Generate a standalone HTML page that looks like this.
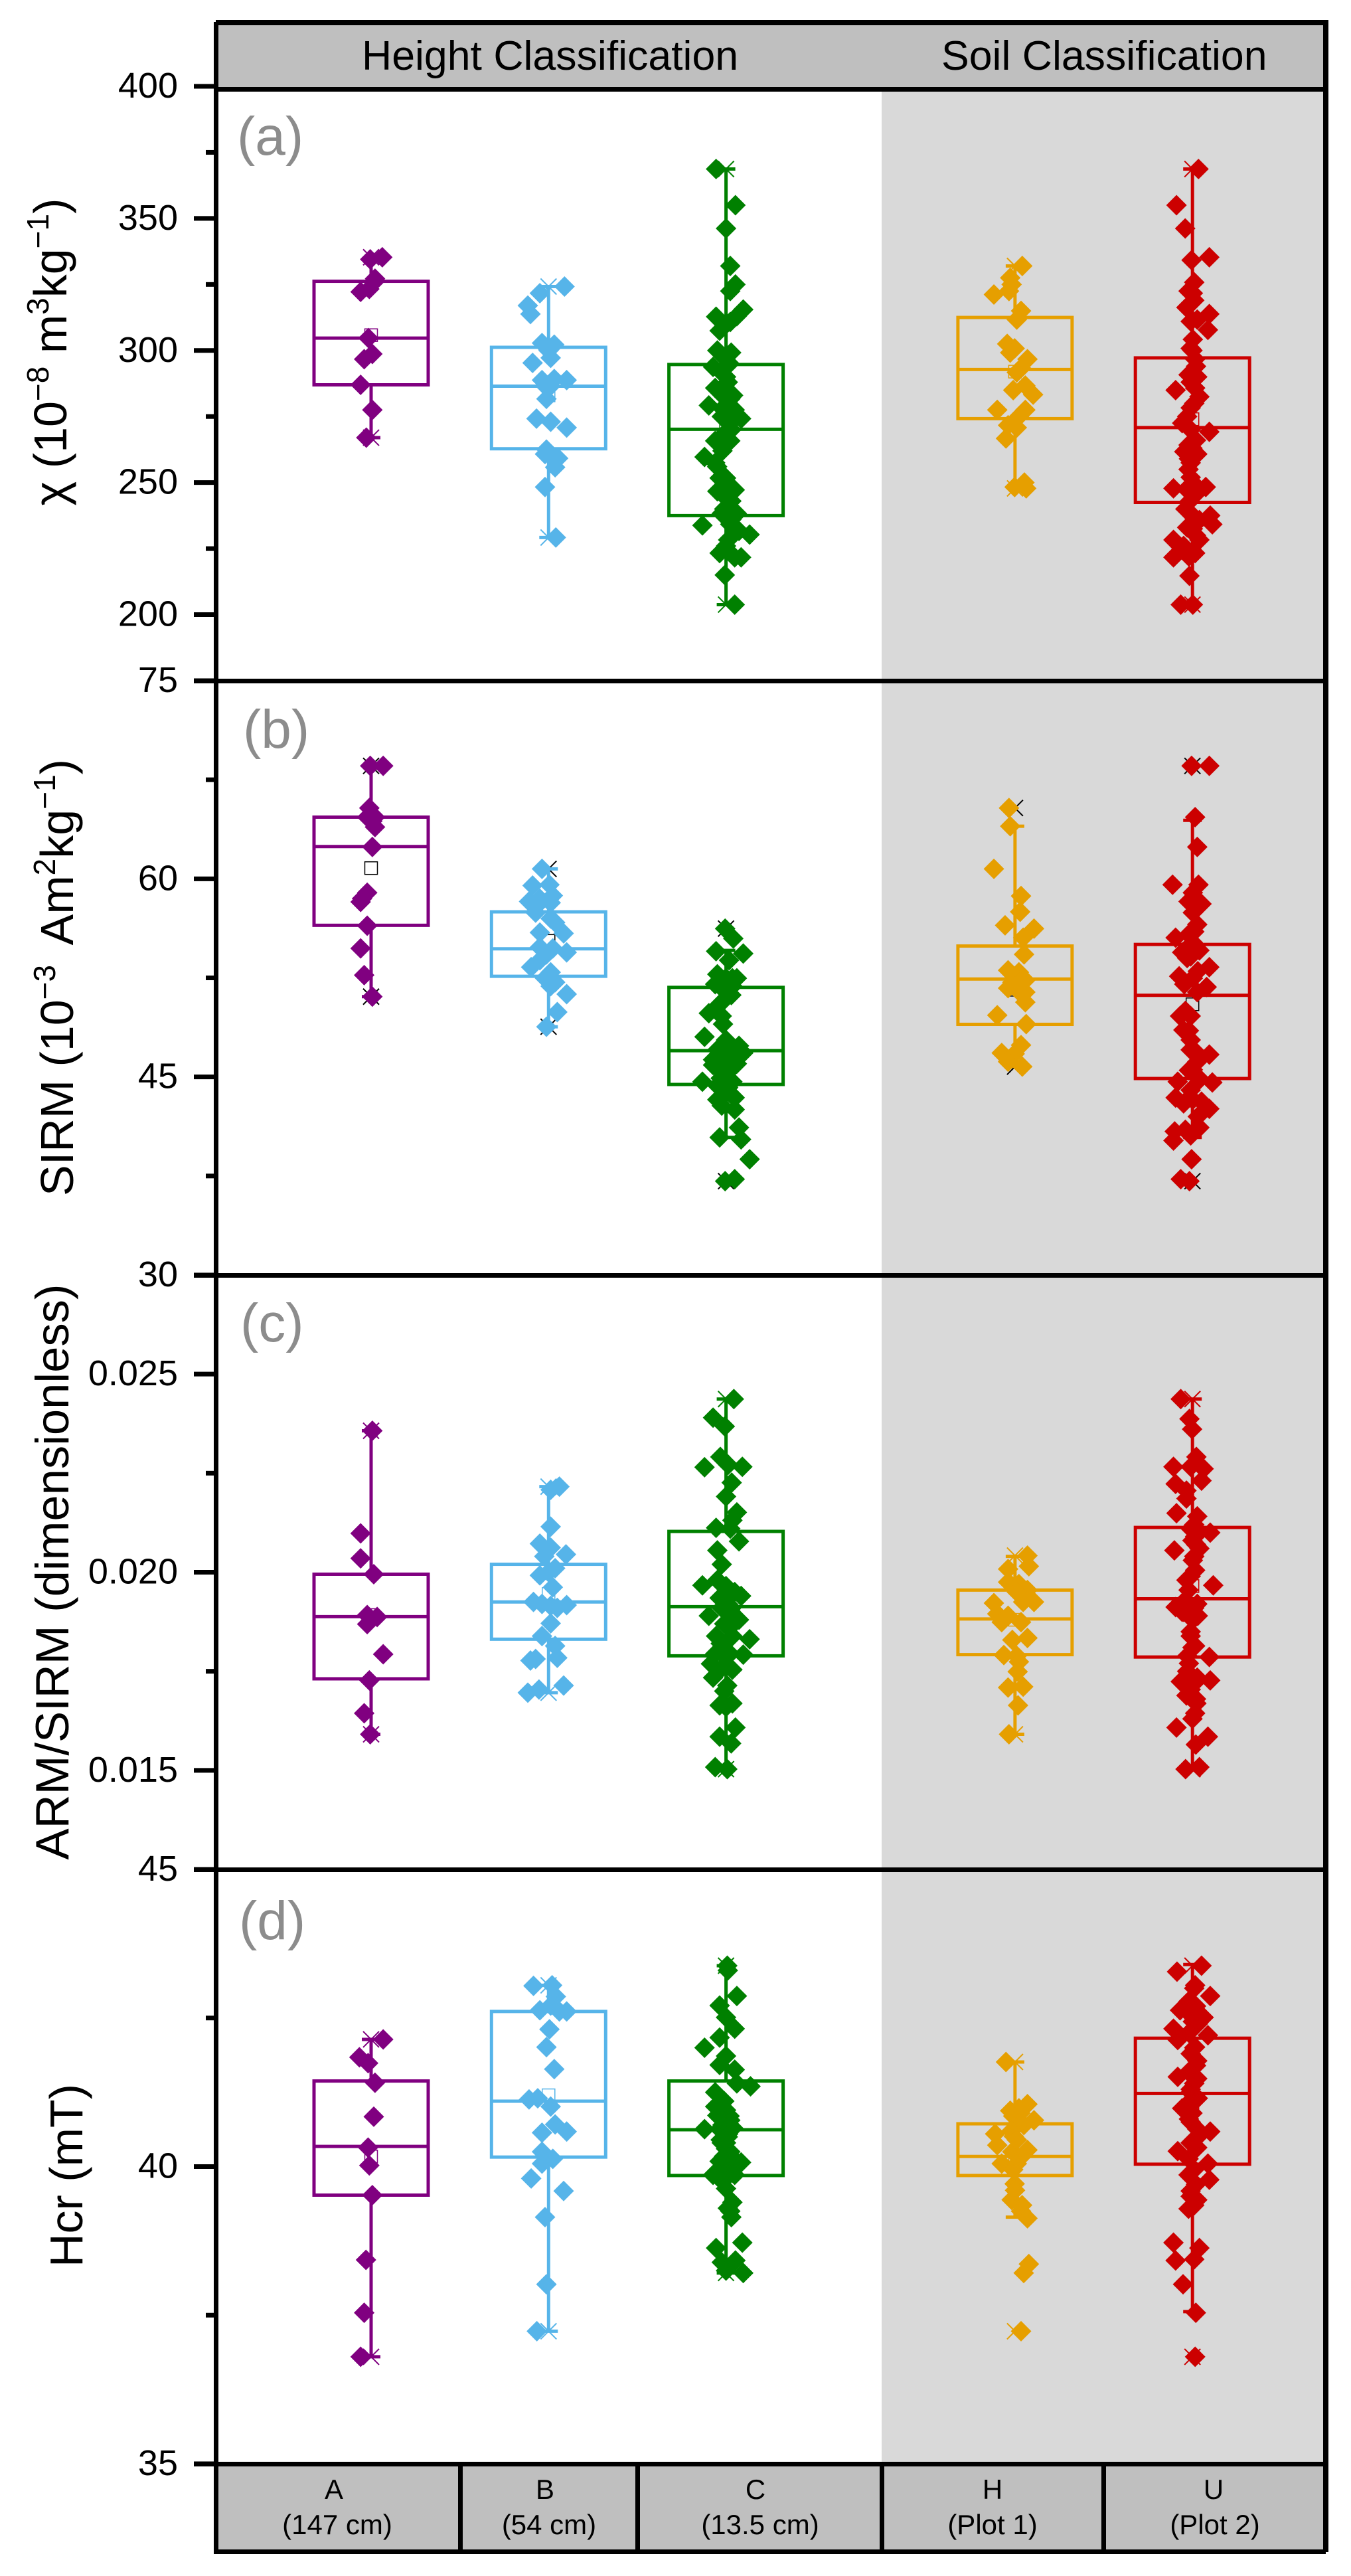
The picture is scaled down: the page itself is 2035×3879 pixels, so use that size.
<!DOCTYPE html>
<html lang="en">
<head>
<meta charset="utf-8">
<title>Magnetic parameters box plots</title>
<style>
html,body{margin:0;padding:0;background:#fff;}
svg{display:block;font-family:"Liberation Sans",Arial,sans-serif;}
</style>
</head>
<body>
<svg id="chart" xmlns="http://www.w3.org/2000/svg" width="2035" height="3879" viewBox="0 0 2035 3879">
  <rect x="0" y="0" width="2035" height="3879" fill="#ffffff"/>
  <rect x="1328" y="137" width="665" height="3573" fill="#d9d9d9"/>
  <rect x="325" y="37" width="1668" height="95" fill="#bfbfbf"/>
  <rect x="325" y="3712" width="1668" height="128" fill="#bfbfbf"/>
  <text x="545" y="105" font-size="62.6" fill="#000">Height Classification</text>
  <text x="1418" y="105" font-size="62.6" fill="#000">Soil Classification</text>

  <g id="marks"></g>

  <g fill="#000">
    <rect x="325" y="30" width="1676" height="8"/>
    <rect x="322" y="33" width="7" height="3813"/>
    <rect x="1993" y="30" width="8" height="3813"/>
    <rect x="322" y="3839" width="1675" height="7"/>
    <rect x="325" y="131" width="1672" height="7"/>
    <rect x="292" y="1022" width="1705" height="7"/>
    <rect x="292" y="1917" width="1705" height="7"/>
    <rect x="292" y="2812" width="1705" height="7"/>
    <rect x="292" y="3707" width="1705" height="7"/>
    <rect x="690" y="3710" width="7" height="133"/>
    <rect x="957" y="3710" width="7" height="133"/>
    <rect x="1325" y="3710" width="7" height="133"/>
    <rect x="1659" y="3710" width="7" height="133"/>
  </g>

  <g font-size="42" text-anchor="middle" fill="#000">
    <text x="503" y="3763">A</text>
    <text x="508" y="3816">(147 cm)</text>
    <text x="821" y="3763">B</text>
    <text x="827" y="3816">(54 cm)</text>
    <text x="1138" y="3763">C</text>
    <text x="1145" y="3816">(13.5 cm)</text>
    <text x="1495" y="3763">H</text>
    <text x="1495" y="3816">(Plot 1)</text>
    <text x="1828" y="3763">U</text>
    <text x="1830" y="3816">(Plot 2)</text>
  </g>

  <g font-size="82" fill="#8c8c8c">
    <text x="357" y="233">(a)</text>
    <text x="366" y="1126">(b)</text>
    <text x="362" y="2020">(c)</text>
    <text x="360" y="2920">(d)</text>
  </g>

  <g font-size="70" text-anchor="middle" fill="#000">
    <text transform="translate(100,530) rotate(-90)">χ (10<tspan font-size="46" dy="-27">−8</tspan><tspan dy="27"> m</tspan><tspan font-size="46" dy="-27">3</tspan><tspan dy="27">kg</tspan><tspan font-size="46" dy="-27">−1</tspan><tspan dy="27">)</tspan></text>
    <text transform="translate(110,1472) rotate(-90)">SIRM (10<tspan font-size="46" dy="-27">−3</tspan><tspan dy="27" dx="14"> Am</tspan><tspan font-size="46" dy="-27">2</tspan><tspan dy="27">kg</tspan><tspan font-size="46" dy="-27">−1</tspan><tspan dy="27">)</tspan></text>
    <text font-size="70.6" transform="translate(103,2367) rotate(-90)">ARM/SIRM (dimensionless)</text>
    <text transform="translate(124,3276) rotate(-90)">Hcr (mT)</text>
  </g>
</svg>

<script>
// Categories and colours
var categories = ['A', 'B', 'C', 'H', 'U'];
var groupColors = ['#800080', '#56b4e9', '#008000', '#e69f00', '#cc0000'];

// Tick values
var chiMajorTicks = [400, 350, 300, 250, 200];
var chiMinorTicks = [375, 325, 275, 225];
var sirmMajorTicks = [75, 60, 45, 30];
var sirmMinorTicks = [67.5, 52.5, 37.5];
var ratioMajorTicks = [0.025, 0.020, 0.015];
var ratioMinorTicks = [0.0225, 0.0175];
var hcrMajorTicks = [45, 40, 35];
var hcrMinorTicks = [42.5, 37.5];
var ratioTickLabels = ['0.025', '0.020', '0.015'];

// Panel (a) chi: values and jitter (jitter = percent of one category step)
var chiA = [335.3,334.5,327.2,325.8,323.3,322.2,304.7,298.7,296.7,287,277.5,267];
var chiAJit = [6.3,-0.5,2.2,1.5,-1,-5.9,-1.5,0.7,-3.9,-5.9,0.7,-2.7];
var chiB = [324.2,321.7,317,313.8,302.8,302.2,297.2,295.3,288.8,289.2,288.8,285.8,281.7,274.2,273,270.8,260.8,259.2,255.8,248.3,229.2,286.7,300,262.5,260];
var chiBJit = [9,-4.9,-11.7,-10.2,-3.7,3.2,1.2,-9,-3.7,3.2,10.2,0,-1.2,-6.8,1.2,10.2,-2,5.4,3.7,-2,4.1,-2,0,-1.2,2.4];
var chiC = [368.7,355,346.2,332,325,322.5,315.5,313,310.8,312.8,307.5,300,299.2,297.5,293.8,290,285.8,282.5,281.7,279.2,277.5,275,274.2,272.5,268.3,265.8,264.2,259.7,257.5,251.7,249.2,247.2,246.7,244.2,238.3,238.3,233.8,234.2,231.7,230.3,228.3,223.3,221.7,221.7,215,203.8,251.7,265.8,295,292,288,283,278,270,262,256,243,240,236,226];
var chiCJit = [-5.6,5.3,0,2.4,5.3,2.4,9.7,6.1,2.4,-5.6,-3.6,-4.9,2.9,-1.2,-7.3,0,-6.1,-1.2,2.4,-9.7,4.9,-2.4,8.5,2.4,-1.2,2.4,-3.6,-12.1,-6.1,-3.6,1.2,4.9,-4.9,0,-2.4,6.1,-13.3,2.4,7.3,13.3,1.2,-3.6,8.5,4.9,-0.7,4.9,0,-6.1,2,-3,1,4,-2,3,-2,-5,3,-1,3,0];
var chiH = [332,327.5,325,322.5,321.2,315,311.7,302.5,300.8,299.2,296.7,293.3,291.7,286.7,285,283.3,277.5,277.5,275,271.7,270.8,266.7,250,248.3,247.8];
var chiHJit = [4.1,-2.7,-1.9,-3.4,-11.9,3.4,1,-4.4,-0.2,-2.7,7,3.4,1,5.8,-1,10.2,-10,5.8,2.2,-3.9,1,-5.1,5.3,-0.2,6.3];
var chiU = [368.7,355,346.2,334.2,335.3,325.8,322.5,321.7,316.3,313.8,311.7,307.8,304.2,300.8,296.7,290.8,290,285,285.8,282.5,278.3,272.5,270,269.2,264.2,261.7,260.8,257.5,255,247.8,247.5,248.3,248.3,242.5,238.3,237.5,235.8,234.2,232.5,228.3,228.3,225.8,223.3,221.7,214.7,203.8,203.8,300,294,288,280,275,266,263,259,252,245,240,233,230,226,222,319,311];
var chiUJit = [3.4,-9,-4.1,-0.5,9.5,1,-2.2,0.2,-3.4,9.5,2.7,8.7,0.2,-1,1.5,-2.2,2.7,-9.5,1.5,3.9,-1,-5.8,-1,9.5,-2.2,-4.6,2.7,-1,-2.2,-10.7,-3.4,2.7,7.5,-2.2,-1,10,3.9,11.2,0.2,-10.7,3.9,-7,1.5,-10.7,-1.7,-6.6,0.2,0,2,-1,1,-3,2,0,-2,-1,1,-4,-3,2,-5,-2,1,-1];
var chiQ1 = [287, 262.8, 237.5, 274.2, 242.5];
var chiMedian = [304.7, 286.5, 270.2, 292.8, 270.8];
var chiQ3 = [326.2, 301.2, 294.7, 312.5, 297.2];
var chiWhiskerLow = [267, 229.2, 203.8, 248.3, 203.8];
var chiWhiskerHigh = [334.7, 324.2, 368.7, 332, 368.7];
var chiMean = [305.8, 283, 270, 292, 274];

// Panel (b) SIRM
var sirmA = [68.55,68.55,65.36,64.67,64.67,64.37,63.92,62.41,58.95,58.25,58.5,56.45,54.73,52.71,51.08];
var sirmAJit = [-0.5,6.8,-1,-2.2,2.2,0.7,2.2,0.7,-2.2,-5.9,-5.1,-2.2,-5.9,-3.9,0.7];
var sirmB = [60.75,59.49,59.55,58.73,58.28,58.49,58.04,58.19,57.44,56.99,56.69,55.93,55.87,54.82,54.73,54.43,54.28,53.83,53.31,52.92,52.47,52.17,51.87,51.27,49.91,48.8];
var sirmBJit = [-3.7,-9,0.5,2.4,-11,-4.9,-6.1,1.2,-7.3,1.2,3.7,-4.9,8.5,-4.9,2.4,10.2,-1.2,-4.9,-9.8,1.2,-2,3.7,1.2,10.2,4.9,-1.2];
var sirmC = [56.23,55.48,54.52,54.34,53.83,52.77,52.47,52.47,52.02,51.87,51.42,50.81,49.82,49.61,49,48.04,47.8,47.35,47.05,46.81,46.6,46.3,46.15,46,45.54,44.64,44.94,44.34,44.19,43.28,43.43,42.83,42.53,41.17,40.42,40.27,38.77,37.11,37.26,52.47,50.5,45.9,46.9,45.54,44.64,52.2,51.2,46.5,45.8,44.9,43.8];
var sirmCJit = [-0.5,4.1,-5.6,9.7,1.7,-4.9,3.6,0,-6.1,3.6,0,-1.2,-9.7,-2.4,-1.7,-12.1,0,7.3,-4.9,9.7,2.4,-7.3,-1.2,6.1,2.4,-13.3,0,-4.9,1.2,-4.9,4.9,-2.4,4.9,7.3,-3.6,8.5,13.3,-0.5,4.9,6.1,-3.6,-7.3,6.1,-3.6,3.6,-4,3,-5,4,-3,2];
var sirmH = [65.36,63.98,60.75,58.7,57.5,56.48,56.23,55.54,54.28,53.07,52.92,52.32,52.17,51.72,51.42,50.66,49.67,49,47.41,46.81,46.75,46.15,45.78,52.6,52.2,51.9,51.5];
var sirmHJit = [-3.4,-2.7,-11.9,3.4,2.9,-5.6,10.7,4.6,5.1,-3.9,2.2,5.8,-1.5,-3.9,5.8,5.8,-10,6.3,3.4,-7.5,-0.2,-3.9,4.1,0,3,-1,2];
var sirmU = [68.55,68.55,64.67,62.41,59.55,59.55,58.95,58.28,58.1,57.44,56.54,55.78,55.54,55.18,54.43,54.58,54.13,53.31,52.62,52.47,52.02,51.81,51.42,49.61,49.61,48.55,47.8,47.05,46.69,46.15,45.54,44.64,44.79,44.58,43.43,43.28,43.13,42.59,40.87,41.17,40.57,40.18,38.77,37.26,37.11,56,55,54,53,50,48.5,47,45.5,45,44,43,42,41];
var sirmUJit = [-0.5,9.5,1.5,2.7,-11.2,3.4,0.2,-2.2,5.1,0.2,2.7,-2.2,-9.5,0.2,-5.8,3.9,-1,9.5,-7.5,0.2,-4.6,8,2.7,-1,-7,-5.1,-1,-1,9.5,2.7,0.2,-8.3,3.9,11.2,-9.5,0.2,5.1,9.5,-10,3.9,-1,-10.7,-0.5,-6.6,-1.7,1,-1,-3,3,-4,-2,1,-2,3,-1,-5,3,-4];
var sirmQ1 = [56.48, 52.62, 44.43, 48.98, 44.88];
var sirmMedian = [62.44, 54.7, 46.99, 52.41, 51.18];
var sirmQ3 = [64.67, 57.5, 51.78, 54.91, 55.03];
var sirmWhiskerLow = [51.08, 48.8, 40.42, 45.78, 40.42];
var sirmWhiskerHigh = [68.55, 60.75, 54.58, 63.98, 64.43];
var sirmMean = [60.81, 55.3, 47.5, 51.6, 50.5];

// Panel (c) ARM/SIRM
var ratioA = [0.02357,0.02098,0.02035,0.01995,0.01892,0.01887,0.01869,0.01793,0.01727,0.01644,0.01591];
var ratioAJit = [0.7,-5.9,-5.9,1.5,-2.2,3.4,-2.2,6.8,-1,-3.9,-0.5];
var ratioB = [0.02216,0.02208,0.02115,0.02072,0.02062,0.02045,0.0204,0.0201,0.01992,0.02,0.01962,0.01925,0.0192,0.01915,0.01917,0.0191,0.01871,0.01839,0.01814,0.01781,0.01777,0.01784,0.01714,0.01696,0.01704];
var ratioBJit = [6.1,1.2,1.2,-4.9,1.2,9.8,-2.4,3.7,-4.9,0,2.4,-8.5,-3.7,1.2,10.2,4.9,1.2,-3.7,3.7,-7.3,-10.2,4.9,8.5,-11.7,-5.4];
var ratioC = [0.02437,0.0239,0.02368,0.02291,0.02265,0.02266,0.02271,0.02226,0.02191,0.02151,0.02131,0.02112,0.0211,0.02078,0.02055,0.0202,0.01967,0.0198,0.0195,0.0194,0.01935,0.0189,0.019,0.0188,0.01839,0.01839,0.01831,0.01794,0.01792,0.01784,0.01769,0.01754,0.01734,0.01714,0.01664,0.01669,0.01608,0.01585,0.01568,0.01508,0.01503,0.01965,0.0195,0.0191,0.01905,0.0193,0.0192,0.0191,0.0187,0.0186,0.0182,0.018,0.0176,0.017,0.0166];
var ratioCJit = [4.4,-7.3,-0.7,-3.2,-12.1,9.2,1.2,3.2,0,6.1,3.6,-5.6,2.4,7.3,-4.9,-2.4,-13.3,-4.9,1.2,8.5,-3.6,-9.7,0,7.3,-5.6,3.6,13.3,-6.1,9.7,0,-8.5,3.6,-7.3,0.7,-3.6,3.6,5.3,-3.6,2.9,-6.1,0.7,0,4.9,-2.4,2.4,-2,1,3,-1,2,-3,1,-2,-1,0];
var ratioH = [0.02042,0.02015,0.02008,0.01975,0.0197,0.01955,0.0195,0.01925,0.01922,0.01925,0.01895,0.0189,0.01874,0.01874,0.01829,0.01834,0.01791,0.01789,0.01774,0.01749,0.01709,0.01711,0.01664,0.01591];
var ratioHJit = [7,7.8,-3.9,-3.9,2.2,7,1,10.7,-11.9,4.6,-10,-3.9,-7.5,3.4,-1.5,7,-6.3,1,2.2,1.5,-3.9,4.6,1.7,-3.4];
var ratioU = [0.02437,0.02387,0.02361,0.02291,0.02266,0.02266,0.02261,0.02231,0.02223,0.02206,0.02186,0.02149,0.02141,0.0211,0.021,0.0209,0.02055,0.0206,0.0203,0.02005,0.0198,0.01967,0.01955,0.01912,0.0192,0.0192,0.019,0.0188,0.01839,0.01814,0.01789,0.01786,0.01727,0.01724,0.01734,0.01704,0.01689,0.01669,0.01644,0.01608,0.01585,0.01565,0.01503,0.01508,0.0212,0.021,0.0208,0.0207,0.0204,0.0199,0.0193,0.0191,0.019,0.0189,0.0185,0.0181,0.0177,0.0175,0.0172,0.0168,0.0163];
var ratioUJit = [-6.6,-1.7,-0.2,2.2,-10.7,-1,6.3,5.1,-9.5,-3.4,-3.4,-9,2.7,-1,10,1.5,-10.2,3.9,0.2,1.5,-3.4,11.7,-2.2,-9.5,-2.2,2.7,-5.8,0.2,-1,1.5,-2.9,9.5,10,-6.6,2.7,-1,-3.4,2.2,1.5,-9,8.7,1.9,-3.9,3.9,1,3,0,2,1,-1,-4,1,-5,3,-1,0,-2,-3,1,2,0];
var ratioQ1 = [0.01731, 0.01831, 0.01789, 0.01792, 0.01786];
var ratioMedian = [0.01888, 0.01925, 0.01913, 0.01882, 0.01933];
var ratioQ3 = [0.01995, 0.0202, 0.02103, 0.01955, 0.02113];
var ratioWhiskerLow = [0.01591, 0.01696, 0.01503, 0.01591, 0.01503];
var ratioWhiskerHigh = [0.02357, 0.02216, 0.02437, 0.0204, 0.02437];
var ratioMean = [0.01892, 0.01945, 0.0193, 0.0188, 0.01965];

// Panel (d) Hcr
var hcrA = [42.14,41.84,41.74,41.41,40.84,40.32,40.02,39.52,38.43,37.54,36.8];
var hcrAJit = [6.8,-6.6,-1.7,2.2,1.5,-1.7,-1,0.7,-2.9,-3.9,-5.9];
var hcrB = [43.04,43.05,42.86,42.63,42.71,42.61,42.61,42.31,42.01,41.64,41.13,41.15,41.01,40.71,40.59,40.57,40.25,40.13,40.05,39.8,39.59,39.15,38.02,37.23];
var hcrBJit = [-8.5,2,4.1,-4.9,1.2,6.1,10.2,0.5,-1.2,3.2,-11,-6.1,1.2,3.7,10.2,-3.7,-3.7,2.4,-3.7,-9.8,8.5,-2,-1.2,-6.6];
var hcrC = [43.38,42.87,42.71,42.51,42.32,42.17,42,41.86,41.71,41.63,41.4,41.35,41.25,41.01,40.78,40.78,40.63,40.63,40.4,40.17,40.07,39.86,39.86,39.63,39.4,39.25,38.63,38.72,38.39,38.42,38.21,38.25,40.86,40.55,40.4,40.25,40.09,40.02,41.1,40.95,40.85,40.7,40.65,40.5,40.45,40.3,40.2,40.15,39.95,39.75,39.3,43.3,39.15];
var hcrCJit = [0.7,6.1,-3.6,0,4.9,-3.6,-12.1,0,-3.6,4.9,6.1,13.8,-6.1,-6.1,-1.2,2.4,-12.1,-3.6,0,-1.2,8.5,-7.3,4.9,0,3.6,2.4,-5.6,9.2,-2.4,5.3,9.7,0,-4.9,1.2,-2.4,2.4,-3.6,1.2,-1,0,2,-2,4,1,-3,0,2,-1,1,-2,1,1,3];
var hcrH = [41.76,41.05,40.94,40.98,40.82,40.78,40.55,40.51,40.36,40.28,40.25,40.05,40.05,39.71,39.44,39.25,39.13,38.36,38.21,37.23,40.9,40.85,40.7,40.6,40.45,40.15,39.95,39.6,39.35];
var hcrHJit = [-5.1,7,-2.7,2.2,1,10.7,-11.2,-0.7,-10,7,-1.5,-7.5,1,-0.2,-1.9,3.4,7,7.8,4.9,3.4,3,-1,5,-2,1,3,-1,0,4];
var hcrU = [43.38,43.28,43.05,42.87,42.78,42.63,42.51,42.32,42.44,42.21,42.13,42.01,41.78,41.59,41.51,41.48,41.25,40.98,40.75,40.59,40.63,40.26,40.32,40.13,40.05,39.78,39.86,39.59,39.44,39.29,38.72,38.63,38.42,38.44,38.02,37.54,36.8,43,42.7,42.55,42.4,42.25,42,41.9,41.7,41.4,41.3,41.15,41.05,40.9,40.8,40.5,40.4,39.95,39.7,39.5,39.35];
var hcrUJit = [5.1,-8.7,1.5,10,-2.2,-7,6.3,-10.7,0.2,8.7,-8.3,1.5,2.7,-2.2,-8.3,2.7,-1,-5.8,-1,10,2.7,-8.3,2.7,-2.2,8.7,9.5,-2.2,-1,2.7,-2.2,-10.7,3.9,-9.5,1,-5.3,1.9,1.5,1,2,-1,3,-2,1,-1,2,1,-1,3,-3,0,-2,3,-1,1,2,-1,1];
var hcrQ1 = [39.52, 40.16, 39.85, 39.85, 40.04];
var hcrMedian = [40.34, 41.1, 40.62, 40.17, 41.23];
var hcrQ3 = [41.44, 42.61, 41.44, 40.72, 42.16];
var hcrWhiskerLow = [36.8, 37.23, 38.21, 39.15, 37.56];
var hcrWhiskerHigh = [42.14, 43.05, 43.38, 41.76, 43.4];
var hcrMean = [40.17, 41.2, 40.6, 40.2, 41.05];

(function () {
  var NS = 'http://www.w3.org/2000/svg';
  var root = document.getElementById('marks');
  var STEP = 267.3, X0 = 559, SOIL_GAP = 168, BOX_HALF = 86, CAP_HALF = 14, MARK = 15.5, CROSS = 12, MEAN = 9.5;

  function x(i) { return X0 + STEP * i + (i > 2 ? SOIL_GAP : 0); }
  function linear(d0, d1, r0, r1) { return function (v) { return r0 + (v - d0) * (r1 - r0) / (d1 - d0); }; }
  function make(tag, attrs, parent) {
    var el = document.createElementNS(NS, tag);
    for (var k in attrs) el.setAttribute(k, attrs[k]);
    (parent || root).appendChild(el);
    return el;
  }

  var panels = [
    { key: 'chi', scale: linear(175, 400, 1025, 130), major: chiMajorTicks, minor: chiMinorTicks, labels: chiMajorTicks.map(String), black: false,
      points: [chiA, chiB, chiC, chiH, chiU], jitter: [chiAJit, chiBJit, chiCJit, chiHJit, chiUJit],
      q1: chiQ1, med: chiMedian, q3: chiQ3, lo: chiWhiskerLow, hi: chiWhiskerHigh, mean: chiMean },
    { key: 'sirm', scale: linear(30, 75, 1920, 1025), major: sirmMajorTicks, minor: sirmMinorTicks, labels: sirmMajorTicks.map(String), black: true,
      points: [sirmA, sirmB, sirmC, sirmH, sirmU], jitter: [sirmAJit, sirmBJit, sirmCJit, sirmHJit, sirmUJit],
      q1: sirmQ1, med: sirmMedian, q3: sirmQ3, lo: sirmWhiskerLow, hi: sirmWhiskerHigh, mean: sirmMean },
    { key: 'ratio', scale: linear(0.0125, 0.0275, 2815, 1920), major: ratioMajorTicks, minor: ratioMinorTicks, labels: ratioTickLabels, black: false,
      points: [ratioA, ratioB, ratioC, ratioH, ratioU], jitter: [ratioAJit, ratioBJit, ratioCJit, ratioHJit, ratioUJit],
      q1: ratioQ1, med: ratioMedian, q3: ratioQ3, lo: ratioWhiskerLow, hi: ratioWhiskerHigh, mean: ratioMean },
    { key: 'hcr', scale: linear(35, 45, 3710, 2815), major: hcrMajorTicks, minor: hcrMinorTicks, labels: hcrMajorTicks.map(String), black: false,
      points: [hcrA, hcrB, hcrC, hcrH, hcrU], jitter: [hcrAJit, hcrBJit, hcrCJit, hcrHJit, hcrUJit],
      q1: hcrQ1, med: hcrMedian, q3: hcrQ3, lo: hcrWhiskerLow, hi: hcrWhiskerHigh, mean: hcrMean }
  ];

  panels.forEach(function (p) {
    var axis = make('g', {});
    
    
    p.major.forEach(function (t, i) {
      var yy = p.scale(t);
      var tick = make('line', { x1: 292, x2: 325, y1: yy, y2: yy, stroke: '#000', 'stroke-width': 7 }, axis);
      
      
      var label = make('text', { x: 268, y: yy + 17, 'font-size': 54, 'text-anchor': 'end', fill: '#000' }, axis);
      label.textContent = p.labels[i];
      
      
    });
    p.minor.forEach(function (t) {
      var yy = p.scale(t);
      var tick = make('line', { x1: 310, x2: 325, y1: yy, y2: yy, stroke: '#000', 'stroke-width': 7 }, axis);
      
      
    });

    categories.forEach(function (cat, i) {
      var color = groupColors[i];
      var cx = x(i);
      var y = p.scale;
      var g = make('g', { stroke: color, fill: 'none' });
      
      

      var whisker = make('path', { 'stroke-width': 5,
        d: 'M' + cx + ' ' + y(p.hi[i]) + 'V' + y(p.q3[i]) + 'M' + cx + ' ' + y(p.q1[i]) + 'V' + y(p.lo[i]) +
           'M' + (cx - CAP_HALF) + ' ' + y(p.hi[i]) + 'H' + (cx + CAP_HALF) +
           'M' + (cx - CAP_HALF) + ' ' + y(p.lo[i]) + 'H' + (cx + CAP_HALF) }, g);
      
      

      var box = make('rect', { x: cx - BOX_HALF, y: y(p.q3[i]), width: BOX_HALF * 2, height: y(p.q1[i]) - y(p.q3[i]), 'stroke-width': 5 }, g);
      
      

      var median = make('line', { x1: cx - BOX_HALF, x2: cx + BOX_HALF, y1: y(p.med[i]), y2: y(p.med[i]), 'stroke-width': 5 }, g);
      
      

      var thin = p.black ? '#000' : color;
      var mean = make('rect', { x: cx - MEAN, y: y(p.mean[i]) - MEAN, width: MEAN * 2, height: MEAN * 2, stroke: thin, 'stroke-width': 1.5 }, g);
      
      

      var vals = p.points[i], jit = p.jitter[i];
      [Math.max.apply(null, vals), Math.min.apply(null, vals)].forEach(function (v) {
        var yy = y(v);
        var cross = make('path', { stroke: thin, 'stroke-width': 2,
          d: 'M' + (cx - CROSS) + ' ' + (yy - CROSS) + 'L' + (cx + CROSS) + ' ' + (yy + CROSS) + 'M' + (cx - CROSS) + ' ' + (yy + CROSS) + 'L' + (cx + CROSS) + ' ' + (yy - CROSS) }, g);
        
        
      });

      vals.forEach(function (v, k) {
        var px = cx + (jit[k] || 0) / 100 * STEP;
        var py = y(v);
        var pt = make('polygon', { fill: color, stroke: 'none',
          points: px + ',' + (py - MARK) + ' ' + (px + MARK) + ',' + py + ' ' + px + ',' + (py + MARK) + ' ' + (px - MARK) + ',' + py }, g);
        
        
      });
    });
  });
})();
</script>
</body>
</html>
